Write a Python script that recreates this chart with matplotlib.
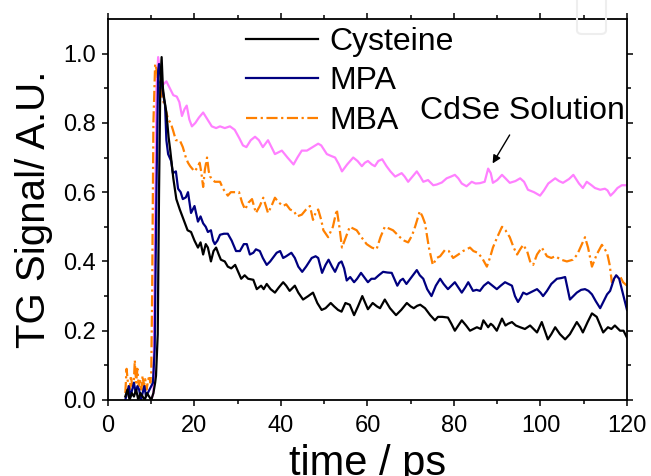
import matplotlib
matplotlib.use('Agg')
import matplotlib.pyplot as plt
from matplotlib.patches import FancyBboxPatch
import numpy as np

plt.rcParams['font.family'] = ['Liberation Sans', 'DejaVu Sans']

# transient grating traces (time in ps, normalised signal)
cys_t = [4.0, 4.5, 5.0, 5.5, 6.0, 6.5, 7.0, 7.5, 8.0, 8.5, 9.0, 9.5, 10.0, 10.5, 10.9, 11.1, 11.5, 11.8,
         12.1, 12.4, 12.7, 13.0, 13.5, 14.0, 14.4, 15.1, 15.8, 16.6, 17.2, 17.8, 18.4, 19.2, 20.0, 20.8,
         21.4, 22.0, 22.6, 23.1, 23.8, 24.4, 25.0, 25.6, 26.1, 27.0, 27.7, 28.5, 29.4, 30.1, 30.8, 31.6,
         32.4, 33.6, 34.4, 35.4, 36.0, 36.7, 37.6, 38.6, 39.5, 40.5, 41.2, 42.0, 43.2, 44.0, 45.1, 46.3,
         47.4, 48.4, 49.4, 50.3, 51.5, 52.3, 53.2, 54.0, 54.9, 55.9, 56.9, 57.8, 58.8, 60.1, 61.2, 62.2,
         62.9, 64.0, 65.2, 66.6, 67.8, 69.1, 70.0, 70.7, 71.5, 72.2, 73.3, 74.5, 75.6, 76.3, 77.3, 78.6,
         79.4, 80.2, 81.0, 81.8, 82.8, 83.7, 84.5, 85.3, 86.2, 86.8, 87.9, 88.5, 89.0, 89.9, 91.1, 91.9,
         92.5, 93.4, 94.3, 95.3, 96.4, 97.6, 98.4, 99.2, 100.3, 101.0, 101.7, 102.5, 103.4, 104.5, 105.7,
         106.8, 108.4, 109.2, 109.8, 110.9, 111.9, 113.0, 114.5, 115.6, 116.4, 117.2, 118.4, 119.2, 120.0]
cys_y = [0.01, 0.03, 0.0, 0.02, 0.01, 0.03, 0.0, 0.02, 0.01, 0.0, 0.02, 0.01, 0.0, 0.02, 0.05, 0.07, 0.19, 0.6,
         0.92, 0.99, 0.90, 0.87, 0.83, 0.76, 0.72, 0.64, 0.58, 0.55, 0.53, 0.51, 0.49, 0.485, 0.46, 0.44,
         0.455, 0.42, 0.45, 0.44, 0.40, 0.43, 0.44, 0.42, 0.405, 0.40, 0.385, 0.38, 0.39, 0.37, 0.35, 0.36,
         0.35, 0.347, 0.32, 0.33, 0.32, 0.335, 0.32, 0.31, 0.325, 0.34, 0.33, 0.315, 0.33, 0.31, 0.29, 0.30,
         0.31, 0.28, 0.26, 0.265, 0.28, 0.27, 0.26, 0.255, 0.28, 0.275, 0.245, 0.27, 0.30, 0.262, 0.28, 0.27,
         0.265, 0.29, 0.265, 0.245, 0.26, 0.28, 0.27, 0.265, 0.272, 0.275, 0.265, 0.245, 0.23, 0.24, 0.24, 0.238,
         0.22, 0.20, 0.215, 0.23, 0.215, 0.20, 0.205, 0.21, 0.205, 0.23, 0.21, 0.22, 0.215, 0.20, 0.235, 0.215,
         0.22, 0.225, 0.215, 0.21, 0.205, 0.215, 0.205, 0.195, 0.225, 0.20, 0.175, 0.19, 0.21, 0.19, 0.175,
         0.19, 0.225, 0.21, 0.195, 0.225, 0.25, 0.24, 0.195, 0.21, 0.205, 0.215, 0.20, 0.20, 0.18]

mpa_t = [4.0, 4.4, 4.8, 5.2, 5.6, 6.0, 6.4, 6.8, 7.2, 7.6, 8.0, 8.4, 8.8, 9.2, 9.6, 10.0, 10.4, 10.8, 11.2,
         11.6, 11.8, 12.3, 12.8, 13.2, 13.5, 13.9, 14.6, 15.0, 15.7, 16.2, 16.8, 17.3, 18.0, 18.5, 19.2,
         20.0, 20.8, 21.4, 22.0, 22.6, 23.1, 23.8, 24.3, 24.7, 25.3, 25.9, 26.8, 27.7, 28.6, 29.6, 30.5,
         31.4, 32.1, 32.8, 33.6, 34.2, 35.1, 35.8, 36.7, 37.5, 39.0, 39.8, 40.5, 41.2, 42.4, 43.2, 44.0,
         44.9, 45.8, 47.1, 48.0, 48.6, 49.5, 50.3, 51.0, 51.8, 52.5, 53.4, 54.0, 54.6, 55.2, 56.0, 56.9,
         57.6, 58.5, 59.2, 60.1, 60.9, 61.7, 62.6, 63.6, 64.6, 65.6, 66.2, 66.9, 67.6, 68.2, 69.0, 69.6,
         70.5, 71.4, 72.1, 72.9, 73.8, 74.8, 75.8, 76.8, 77.6, 78.6, 79.4, 80.2, 81.0, 81.8, 82.6, 83.3,
         84.4, 85.2, 86.0, 86.9, 87.9, 88.9, 89.9, 90.8, 91.8, 92.6, 93.4, 94.1, 94.8, 95.4, 96.0, 96.8,
         97.6, 98.4, 99.2, 100.0, 100.6, 101.5, 102.5, 103.8, 104.8, 105.7, 106.3, 106.8, 107.6, 108.4,
         109.4, 110.3, 111.1, 111.9, 112.8, 113.8, 114.6, 115.4, 116.1, 116.5, 117.0, 117.5, 118.2, 118.8,
         119.4, 120.0]
mpa_y = [0.0, 0.02, 0.04, 0.01, 0.03, 0.05, 0.02, 0.04, 0.03, 0.0, 0.02, 0.04, 0.01, 0.02, 0.03, 0.04, 0.05, 0.15, 0.6,
         0.95, 0.97, 0.925, 0.88, 0.85, 0.75, 0.71, 0.69, 0.655, 0.66, 0.61, 0.60, 0.58, 0.585, 0.60, 0.54,
         0.56, 0.515, 0.53, 0.51, 0.50, 0.485, 0.49, 0.46, 0.45, 0.46, 0.477, 0.48, 0.48, 0.46, 0.43, 0.43,
         0.45, 0.45, 0.42, 0.425, 0.435, 0.43, 0.41, 0.39, 0.40, 0.425, 0.43, 0.41, 0.415, 0.425, 0.41, 0.385,
         0.37, 0.385, 0.41, 0.415, 0.41, 0.367, 0.39, 0.405, 0.385, 0.37, 0.395, 0.40, 0.38, 0.345, 0.355, 0.34,
         0.35, 0.367, 0.355, 0.34, 0.35, 0.35, 0.36, 0.37, 0.368, 0.367, 0.35, 0.33, 0.345, 0.35, 0.335, 0.345,
         0.36, 0.375, 0.36, 0.35, 0.32, 0.30, 0.33, 0.35, 0.335, 0.32, 0.33, 0.34, 0.325, 0.31, 0.325, 0.34,
         0.315, 0.318, 0.315, 0.33, 0.34, 0.33, 0.32, 0.33, 0.34, 0.335, 0.33, 0.30, 0.283, 0.295, 0.31, 0.305,
         0.31, 0.315, 0.32, 0.31, 0.30, 0.315, 0.335, 0.35, 0.352, 0.355, 0.32, 0.29, 0.30, 0.31,
         0.318, 0.32, 0.315, 0.305, 0.285, 0.265, 0.285, 0.305, 0.315, 0.33, 0.35, 0.36, 0.35, 0.32,
         0.29, 0.26]

mba_t = [4.0, 4.3, 4.6, 5.0, 5.3, 5.6, 6.0, 6.2, 6.5, 6.8, 7.1, 7.4, 7.7, 8.0, 8.3, 8.6, 8.9, 9.2, 9.5, 9.8,
         10.0, 10.2, 10.5, 10.9, 11.3, 11.6, 12.2, 12.6, 13.1, 13.9, 14.5, 15.0, 15.7, 16.6, 17.3, 18.0,
         18.5, 19.0, 20.0, 20.6, 21.2, 21.6, 22.0, 22.4, 22.9, 23.3, 23.6, 24.7, 25.9, 26.6, 27.7, 28.4,
         29.6, 30.3, 31.0, 31.7, 32.5, 33.3, 34.2, 35.1, 35.9, 37.0, 37.8, 38.6, 39.5, 40.5, 41.2, 42.1,
         43.0, 43.7, 44.8, 45.8, 46.7, 47.4, 48.0, 48.6, 49.3, 49.8, 50.9, 52.0, 52.9, 53.5, 54.1, 55.0,
         55.9, 57.5, 58.6, 59.8, 61.0, 62.1, 63.0, 64.0, 65.0, 65.9, 67.5, 68.5, 69.4, 70.3, 71.0, 72.1,
         72.7, 73.3, 74.2, 75.1, 76.0, 76.8, 77.9, 78.8, 79.8, 81.0, 82.1, 83.7, 84.5, 85.5, 86.5, 87.6,
         88.3, 89.0, 90.0, 91.1, 91.9, 92.9, 93.8, 94.6, 95.3, 96.0, 96.9, 97.6, 98.3, 99.2, 100.3, 101.5,
         102.5, 103.4, 104.8, 106.1, 107.5, 108.5, 109.4, 110.3, 111.0, 111.9, 113.0, 114.2, 115.4, 116.0,
         116.5, 117.2, 117.9, 118.5, 119.1, 120.0]
mba_y = [0.02, 0.09, 0.05, 0.03, 0.07, 0.04, 0.06, 0.115, 0.05, 0.09, 0.04, 0.06, 0.03, 0.07, 0.04, 0.06, 0.03, 0.05, 0.07, 0.05,
         0.08, 0.3, 0.8, 0.97, 0.95, 0.92, 0.90, 0.87, 0.85, 0.81, 0.80, 0.78, 0.75, 0.75, 0.73, 0.70,
         0.685, 0.675, 0.66, 0.67, 0.685, 0.655, 0.615, 0.665, 0.70, 0.66, 0.645, 0.63, 0.63, 0.61, 0.59, 0.60,
         0.60, 0.60, 0.57, 0.55, 0.57, 0.58, 0.54, 0.56, 0.584, 0.54, 0.56, 0.584, 0.57, 0.56, 0.565, 0.55,
         0.545, 0.53, 0.535, 0.55, 0.56, 0.52, 0.54, 0.55, 0.52, 0.49, 0.47, 0.50, 0.55, 0.50, 0.44, 0.47,
         0.50, 0.49, 0.47, 0.45, 0.44, 0.435, 0.47, 0.50, 0.495, 0.49, 0.47, 0.46, 0.455, 0.475, 0.50, 0.545,
         0.53, 0.51, 0.44, 0.39, 0.41, 0.415, 0.433, 0.43, 0.41, 0.42, 0.43, 0.44, 0.43, 0.425, 0.41, 0.385,
         0.41, 0.44, 0.47, 0.50, 0.49, 0.47, 0.44, 0.42, 0.435, 0.448, 0.43, 0.40, 0.39, 0.42, 0.44, 0.415,
         0.41, 0.415, 0.405, 0.40, 0.405, 0.42, 0.445, 0.47, 0.44, 0.385, 0.42, 0.448, 0.425, 0.39,
         0.34, 0.35, 0.36, 0.355, 0.34, 0.33]

sol_t = [10.0, 10.5, 10.9, 11.2, 11.6, 12.1, 12.7, 13.5, 14.3, 15.1, 15.9, 16.5, 17.1, 17.7, 18.2, 18.8,
         19.4, 20.2, 21.0, 22.0, 23.0, 24.0, 25.0, 25.9, 27.0, 28.2, 29.3, 30.4, 31.2, 32.0, 33.0, 34.0,
         34.9, 35.8, 37.0, 37.8, 38.6, 39.4, 40.2, 41.5, 42.9, 43.8, 44.8, 46.0, 47.3, 48.6, 49.3, 50.6,
         51.5, 52.5, 53.4, 54.1, 55.3, 56.7, 57.7, 58.7, 59.4, 60.1, 61.0, 61.7, 62.5, 63.4, 64.4, 65.3,
         66.4, 67.9, 68.6, 69.4, 70.4, 71.4, 72.2, 72.9, 74.0, 75.2, 76.0, 77.2, 78.3, 79.3, 80.2, 81.0,
         81.8, 82.9, 84.1, 85.0, 86.0, 87.1, 87.9, 88.5, 89.0, 90.0, 91.1, 91.9, 92.9, 94.2, 95.3, 96.2,
         97.1, 98.5, 99.9, 100.8, 101.8, 103.4, 104.3, 105.2, 106.6, 107.6, 108.9, 109.8, 110.7, 111.8,
         112.6, 113.8, 114.9, 115.5, 116.2, 117.0, 117.8, 118.8, 120.0]
sol_y = [0.0, 0.02, 0.5, 0.9, 0.99, 0.94, 0.91, 0.92, 0.90, 0.88, 0.876, 0.86, 0.82, 0.84, 0.85, 0.81,
         0.79, 0.80, 0.815, 0.83, 0.81, 0.79, 0.785, 0.79, 0.785, 0.79, 0.78, 0.755, 0.735, 0.73, 0.75, 0.76,
         0.75, 0.73, 0.75, 0.73, 0.71, 0.715, 0.72, 0.70, 0.68, 0.70, 0.72, 0.72, 0.73, 0.74, 0.735, 0.71,
         0.705, 0.70, 0.68, 0.66, 0.68, 0.70, 0.69, 0.675, 0.685, 0.69, 0.68, 0.675, 0.69, 0.695, 0.675, 0.66,
         0.645, 0.655, 0.645, 0.63, 0.645, 0.66, 0.645, 0.63, 0.635, 0.62, 0.622, 0.628, 0.64, 0.645, 0.65, 0.64,
         0.625, 0.617, 0.63, 0.625, 0.626, 0.63, 0.668, 0.655, 0.627, 0.635, 0.65, 0.64, 0.627, 0.632, 0.64, 0.63,
         0.607, 0.60, 0.59, 0.605, 0.625, 0.64, 0.632, 0.627, 0.638, 0.65, 0.625, 0.612, 0.63, 0.62,
         0.612, 0.607, 0.61, 0.605, 0.59, 0.60, 0.612, 0.62, 0.62]

fig = plt.figure(figsize=(6.51, 4.76), dpi=100)
ax = fig.add_axes([0.1659, 0.1597, 0.7972, 0.8004])

ax.plot(sol_t, sol_y, color='#ff80ff', lw=1.6)
l_mba, = ax.plot(mba_t, mba_y, color='#ff8000', lw=1.6, ls=(0, (5, 1.6, 1, 1.6)), label='MBA')
l_mpa, = ax.plot(mpa_t, mpa_y, color='#000080', lw=1.6, label='MPA')
l_cys, = ax.plot(cys_t, cys_y, color='black', lw=1.6, label='Cysteine')

ax.set_xlim(0, 120)
ax.set_ylim(0, 1.1)
ax.set_xticks(np.arange(0, 121, 20))
ax.set_xticks(np.arange(0, 121, 10), minor=True)
ax.set_yticks(np.arange(0, 1.01, 0.2))
ax.set_yticks(np.arange(0, 1.1, 0.1), minor=True)
ax.yaxis.set_major_formatter(plt.FormatStrFormatter('%.1f'))

ax.tick_params(which='both', direction='out', top=True, right=True, width=1.1, labelsize=17)
ax.tick_params(which='major', length=4)
ax.tick_params(which='minor', length=3)
ax.tick_params(axis='x', pad=7, labeltop=False)
ax.tick_params(axis='y', pad=5, labelright=False)
for s in ax.spines.values():
    s.set_linewidth(1.3)

ax.set_xlabel('time / ps', fontsize=30, labelpad=4.5)
ax.set_ylabel('TG Signal/ A.U.', fontsize=29, labelpad=7)

ax.legend(handles=[l_cys, l_mpa, l_mba], loc='upper left', bbox_to_anchor=(0.241, 1.013),
          frameon=False, fontsize=23, handlelength=2.25, handletextpad=0.37,
          labelspacing=0.30, borderaxespad=0.0, borderpad=0.4)

ax.text(95.8, 0.812, 'CdSe Solution', fontsize=23, ha='center', va='baseline')
ax.annotate('', xy=(88.6, 0.676), xytext=(93.2, 0.772),
            arrowprops=dict(arrowstyle='-|>', color='black', lw=1.0, mutation_scale=12))

fig.patches.append(FancyBboxPatch((577 / 651, 1 - 34 / 476), 29 / 651, 50 / 476,
                                  boxstyle='round,pad=0,rounding_size=0.008',
                                  transform=fig.transFigure, fill=False,
                                  edgecolor='#eeeeee', lw=1.5))

fig.savefig('out.png', dpi=100)
